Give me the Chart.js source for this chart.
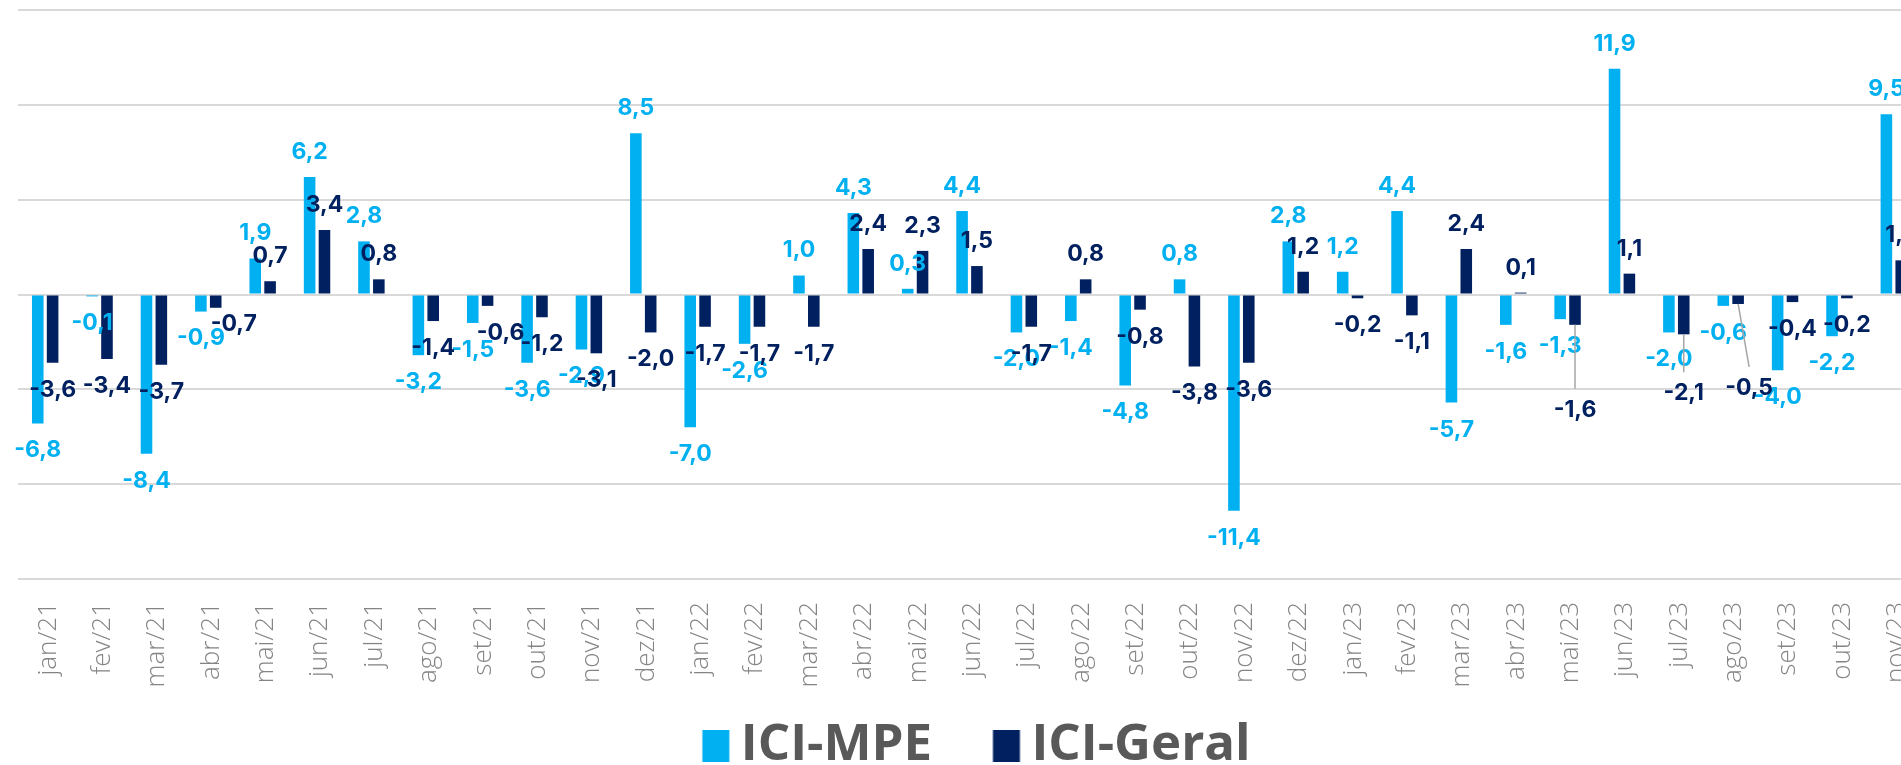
<!DOCTYPE html>
<html lang="pt-BR">
<head>
<meta charset="utf-8">
<title>ICI-MPE x ICI-Geral</title>
<script src="https://cdn.jsdelivr.net/npm/chart.js@4.4.1/dist/chart.umd.min.js"></script>
<style>
  html, body { margin: 0; padding: 0; background: #fff; overflow: hidden; }
  #wrap { position: relative; width: 1954px; height: 781px; }
</style>
</head>
<body>
<div id="wrap"><canvas id="iciChart"></canvas></div>
<script>
const meses = [
  'jan/21', 'fev/21', 'mar/21', 'abr/21', 'mai/21', 'jun/21', 'jul/21', 'ago/21', 'set/21', 'out/21', 'nov/21', 'dez/21',
  'jan/22', 'fev/22', 'mar/22', 'abr/22', 'mai/22', 'jun/22', 'jul/22', 'ago/22', 'set/22', 'out/22', 'nov/22', 'dez/22',
  'jan/23', 'fev/23', 'mar/23', 'abr/23', 'mai/23', 'jun/23', 'jul/23', 'ago/23', 'set/23', 'out/23', 'nov/23'
];

const iciMpe = [
  -6.8, -0.1, -8.4, -0.9, 1.9, 6.2, 2.8, -3.2, -1.5, -3.6, -2.9, 8.5,
  -7.0, -2.6, 1.0, 4.3, 0.3, 4.4, -2.0, -1.4, -4.8, 0.8, -11.4, 2.8,
  1.2, 4.4, -5.7, -1.6, -1.3, 11.9, -2.0, -0.6, -4.0, -2.2, 9.5
];

const iciGeral = [
  -3.6, -3.4, -3.7, -0.7, 0.7, 3.4, 0.8, -1.4, -0.6, -1.2, -3.1, -2.0,
  -1.7, -1.7, -1.7, 2.4, 2.3, 1.5, -1.7, 0.8, -0.8, -3.8, -3.6, 1.2,
  -0.2, -1.1, 2.4, 0.1, -1.6, 1.1, -2.1, -0.5, -0.4, -0.2, 1.8
];

const eixoMin = -15;
const eixoMax = 15;
const eixoPasso = 5;

// rótulos da série Geral que foram arrastados à mão no gráfico original [dx, dy]
const ajusteRotuloGeral = { 3: [18, -11], 8: [13, 0], 28: [0, 58], 30: [0, 32], 31: [11, 57] };
const comLinhaGuia = [28, 30, 31];

const corMpe = '#00b0f0';
const corGeral = '#002060';

// quadradinho da legenda (desenhado um pouco mais perto do texto)
function marcaLegenda(cor) {
  const c = document.createElement('canvas');
  c.width = 60;
  c.height = 32;
  const g = c.getContext('2d');
  g.fillStyle = cor;
  g.fillRect(30.5, 0, 27, 32);
  return c;
}
const marcas = [marcaLegenda(corMpe), marcaLegenda(corGeral)];

const rotulosDados = {
  id: 'rotulosDados',
  afterDatasetsDraw(chart) {
    const ctx = chart.ctx;
    ctx.save();
    ctx.font = '700 23px Inter, "Open Sans", sans-serif';
    ctx.textAlign = 'center';
    ctx.textBaseline = 'middle';
    chart.data.datasets.forEach((ds, di) => {
      const meta = chart.getDatasetMeta(di);
      meta.data.forEach((bar, i) => {
        const v = ds.data[i];
        let x = bar.x;
        let y = v >= 0 ? bar.y - 25 : bar.y + 27;
        const aj = di === 1 ? ajusteRotuloGeral[i] : null;
        if (aj) {
          x += aj[0];
          y += aj[1];
          if (comLinhaGuia.includes(i)) {
            ctx.strokeStyle = '#a6a6a6';
            ctx.lineWidth = 1.5;
            ctx.beginPath();
            ctx.moveTo(bar.x, bar.y);
            ctx.lineTo(x, y - 21);
            ctx.stroke();
          }
        }
        ctx.fillStyle = ds.backgroundColor;
        ctx.fillText(v.toFixed(1).replace('.', ','), x, y);
      });
    });
    ctx.restore();
  }
};

new Chart(document.getElementById('iciChart'), {
  type: 'bar',
  data: {
    labels: meses,
    datasets: [
      {
        label: 'ICI-MPE',
        data: iciMpe,
        backgroundColor: corMpe,
        categoryPercentage: 0.546,
        barPercentage: 0.78
      },
      {
        label: 'ICI-Geral',
        data: iciGeral,
        backgroundColor: corGeral,
        categoryPercentage: 0.546,
        barPercentage: 0.78
      }
    ]
  },
  options: {
    responsive: true,
    maintainAspectRatio: false,
    animation: false,
    layout: { padding: { left: 18, right: 33, top: 10, bottom: 0 } },
    plugins: {
      legend: {
        position: 'bottom',
        labels: {
          color: '#595959',
          font: { family: '"Open Sans", sans-serif', size: 51, weight: '700' },
          boxWidth: 27,
          boxHeight: 32,
          padding: 25,
          usePointStyle: true,
          generateLabels(chart) {
            const itens = Chart.defaults.plugins.legend.labels.generateLabels(chart);
            itens.forEach((it, i) => {
              it.pointStyle = marcas[i];
              if (i === 0) it.text += ' \u2009';
            });
            return itens;
          }
        }
      },
      tooltip: { enabled: false }
    },
    scales: {
      x: {
        grid: { display: false, drawTicks: false },
        border: { display: false },
        ticks: {
          autoSkip: false,
          minRotation: 90,
          maxRotation: 90,
          padding: 23,
          labelOffset: 3,
          color: '#858585',
          font: { family: '"Open Sans", sans-serif', size: 26, weight: '300' }
        },
        afterFit(scale) { scale.height = 116; }
      },
      y: {
        min: eixoMin,
        max: eixoMax,
        ticks: { stepSize: eixoPasso, display: false },
        grid: { color: '#d9d9d9', lineWidth: 2, drawTicks: false },
        border: { display: false }
      }
    }
  },
  plugins: [rotulosDados]
});
</script>
</body>
</html>
